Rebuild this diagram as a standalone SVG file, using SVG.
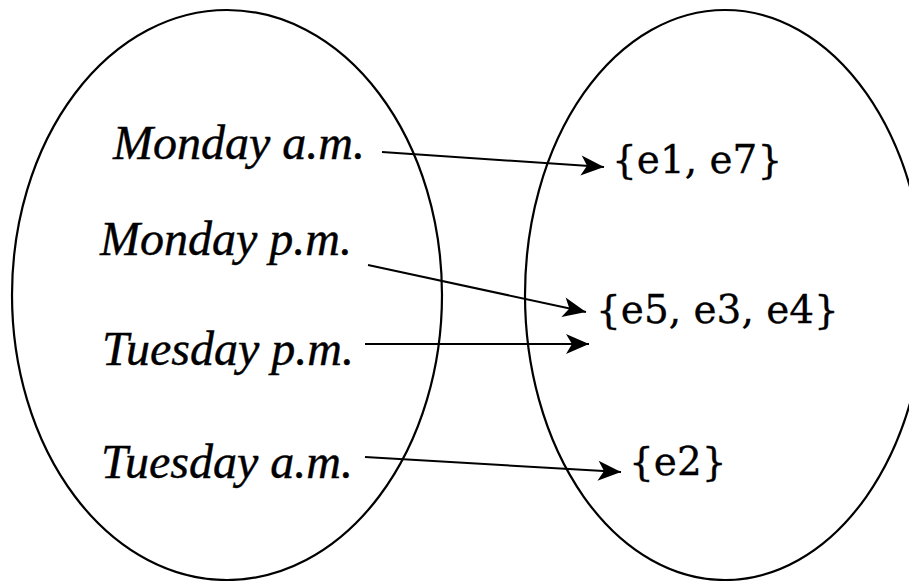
<svg xmlns="http://www.w3.org/2000/svg" width="909" height="581" viewBox="0 0 909 581">
<style>
.set{fill:none;stroke:#000;stroke-width:2.2}
.lbl{font-family:"Liberation Serif","Times New Roman",serif;font-style:italic;font-size:48px;fill:#000;stroke:#000;stroke-width:0.4}
.val{font-family:"DejaVu Serif","Liberation Serif",serif;font-size:39px;fill:#000;stroke:#000;stroke-width:0.3}
.arr{fill:none;stroke:#000;stroke-width:2;marker-end:url(#ah)}
</style>
<defs>
<marker id="ah" markerUnits="userSpaceOnUse" markerWidth="26" markerHeight="22" refX="23" refY="10" orient="auto" overflow="visible">
<path d="M0,0 L23,10 L0,20 L6,10 z" fill="#000"/>
</marker>
</defs>
<rect width="909" height="581" fill="#fff"/>
<g id="domain">
<ellipse class="set" cx="227" cy="295" rx="215" ry="285"/>
</g>
<g id="codomain">
<ellipse class="set" cx="725" cy="295" rx="200" ry="285"/>
</g>
<g id="n-mon-am"><text class="lbl" x="113" y="159">Monday a.m.</text></g>
<g id="n-mon-pm"><text class="lbl" x="100" y="255">Monday p.m.</text></g>
<g id="n-tue-pm"><text class="lbl" x="102" y="365">Tuesday p.m.</text></g>
<g id="n-tue-am"><text class="lbl" x="101" y="478">Tuesday a.m.</text></g>
<g id="n-e1e7"><text class="val" x="612" y="173">{e1, e7}</text></g>
<g id="n-e5e3e4"><text class="val" x="596" y="323">{e5, e3, e4}</text></g>
<g id="n-e2"><text class="val" x="629" y="475">{e2}</text></g>
<g id="connectors">
<line class="arr" x1="382" y1="152" x2="604" y2="167"/>
<line class="arr" x1="368" y1="265" x2="586" y2="312"/>
<line class="arr" x1="365" y1="344" x2="589" y2="344"/>
<line class="arr" x1="365" y1="457" x2="621" y2="472"/>
</g>
</svg>
